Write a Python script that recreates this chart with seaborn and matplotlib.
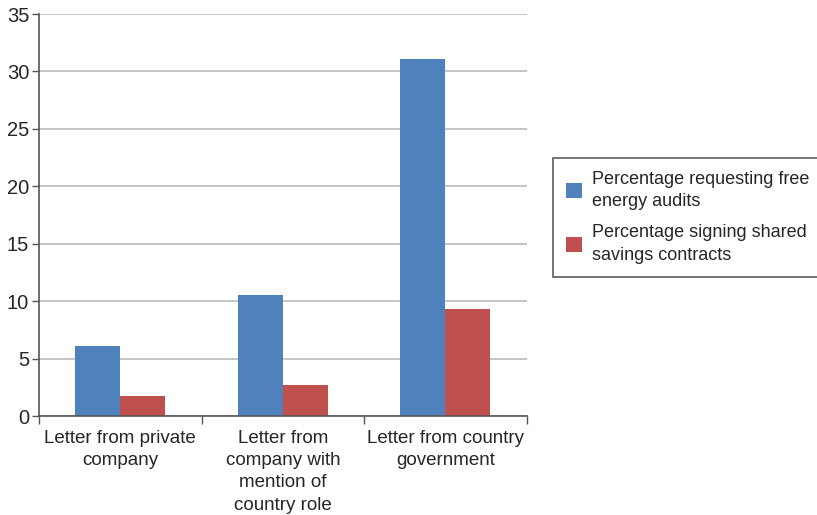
import matplotlib
matplotlib.use("Agg")
import matplotlib.pyplot as plt
import seaborn as sns
import pandas as pd
import numpy as np

# data
categories = ["Letter from private\ncompany",
              "Letter from\ncompany with\nmention of\ncountry role",
              "Letter from country\ngovernment"]
series = ["Percentage requesting free\nenergy audits",
          "Percentage signing shared\nsavings contracts"]
audits = [6.1, 10.5, 31.1]
contracts = [1.7, 2.7, 9.3]
yticks = [0, 5, 10, 15, 20, 25, 30, 35]

df = pd.DataFrame({
    "category": categories * 2,
    "series": [series[0]] * 3 + [series[1]] * 3,
    "value": audits + contracts,
})

sns.set_style("white")
plt.rcParams["font.family"] = ["Liberation Sans", "DejaVu Sans"]

fig = plt.figure(figsize=(8.17, 5.15), dpi=100)
ax = fig.add_axes([0.0477, 0.1922, 0.597, 0.7806])

sns.barplot(data=df, x="category", y="value", hue="series",
            palette=["#4f81bd", "#c0504d"], width=0.553, gap=0,
            linewidth=0, saturation=1, ax=ax, legend=True)

ax.set_ylim(0, 35)
ax.set_xlim(-0.5, 2.5)
ax.set_yticks(yticks)
ax.yaxis.grid(True, color="#b5b5b5", linewidth=1.1)
ax.set_axisbelow(True)
ax.set_xlabel("")
ax.set_ylabel("")

for s in ["top", "right"]:
    ax.spines[s].set_visible(False)
for s in ["left", "bottom"]:
    ax.spines[s].set_color("#555555")
    ax.spines[s].set_linewidth(1.2)

ax.tick_params(axis="y", direction="out", length=5, width=1, color="#555555",
               labelsize=14.5, pad=2, left=True)
ax.tick_params(axis="x", which="major", length=0, labelsize=13.5, pad=10)
ax.set_xticks([-0.5, 0.5, 1.5, 2.5], minor=True)
ax.tick_params(axis="x", which="minor", direction="out", length=6, width=1,
               color="#555555", bottom=True)
for lab in ax.get_xticklabels():
    lab.set_linespacing(1.4)

handles, labels = ax.get_legend_handles_labels()
ax.get_legend().remove()
leg = fig.legend(handles, labels, loc="upper left",
                 bbox_to_anchor=(553 / 817, 1 - 158 / 515),
                 frameon=True, fancybox=False, edgecolor="#333333",
                 fontsize=13, handlelength=0.9, handleheight=0.9,
                 handletextpad=0.55, labelspacing=0.75, borderpad=0.7,
                 borderaxespad=0)
leg.get_frame().set_linewidth(1.2)
for t in leg.get_texts():
    t.set_linespacing(1.45)

fig.savefig("out.png", dpi=100)
